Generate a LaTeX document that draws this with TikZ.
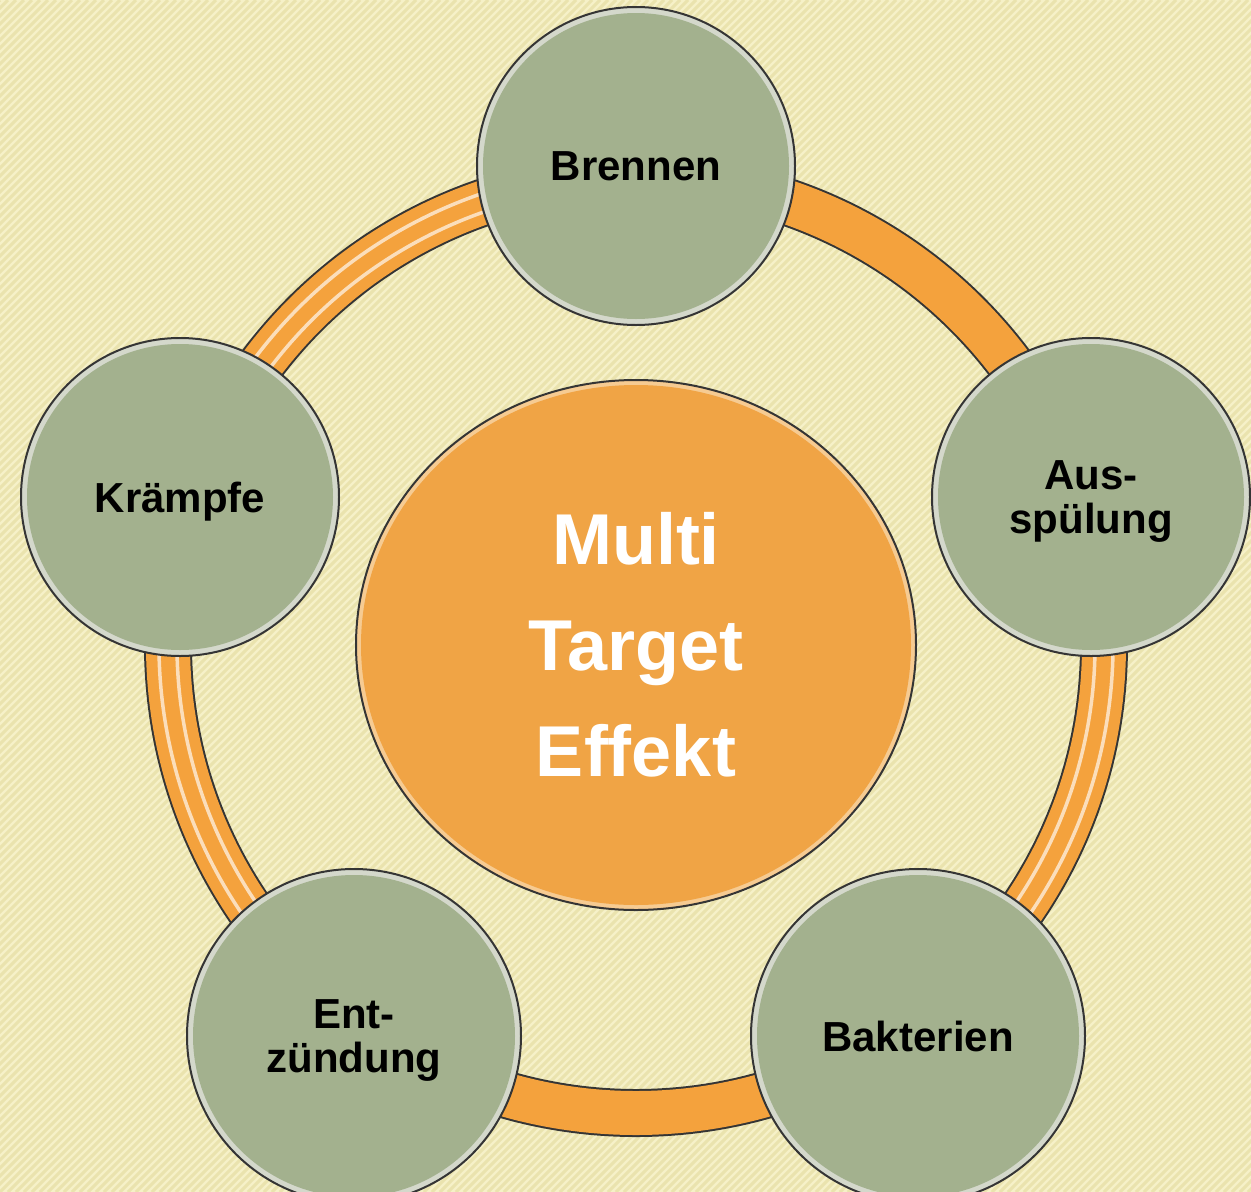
\documentclass[tikz,border=0pt]{standalone}
\usepackage{fontspec}
\setmainfont{Liberation Sans}
\usetikzlibrary{shapes.geometric}
\definecolor{bgbase}{HTML}{F6F1C8}
\definecolor{bgstripe}{HTML}{EAE3AE}
\definecolor{sage}{HTML}{A3B18E}
\definecolor{rimgray}{HTML}{D4D8CB}
\definecolor{ringorange}{HTML}{F4A23D}
\definecolor{coreorange}{HTML}{F0A445}
\definecolor{corerim}{HTML}{F6CB92}
\definecolor{edge}{HTML}{353535}
\begin{document}
\begin{tikzpicture}[x=1pt,y=-1pt,
  bub/.style={circle, draw=edge, line width=2pt, fill=rimgray, minimum size={2*#1}, inner sep=0pt, align=center, text=black,
    text depth=0pt,
    font=\bfseries\fontsize{42}{44}\selectfont,
    path picture={\fill[sage] (path picture bounding box.center) circle[radius={#1-6pt}];}},
  core/.style={ellipse, draw=edge, line width=2pt, fill=corerim, minimum width=560pt, minimum height=530pt, inner sep=0pt, align=center, text=white,
    font=\bfseries\fontsize{72}{106}\selectfont,
    path picture={\fill[coreorange] (path picture bounding box.center) ellipse[x radius=275pt, y radius=260pt];}},
  ringline/.style={line width=#1},
  gloss/.style={white, opacity=.65, line width=3.5pt}
]
% background
\fill[bgbase] (0,0) rectangle (1251,1192);
\begin{scope}
\clip (0,0) rectangle (1251,1192);
\foreach \k in {-1192,-1184,...,1256} \draw[bgstripe, line width=3pt] (\k,1192) -- (\k+1192,0);
\end{scope}
\useasboundingbox (0,0) rectangle (1251,1192);
% ring
\coordinate (ringc) at (636,645);
\draw[edge, ringline=48pt] (ringc) circle[radius=468pt];
\draw[ringorange, ringline=44pt] (ringc) circle[radius=468pt];
\foreach \a/\b in {126/198, -18/54, 198/270} {
  \foreach \r in {459,477}
    \draw[gloss] ([shift={(\a:\r)}]ringc) arc[start angle=\a, end angle=\b, radius=\r];
}
% nodes
\node[bub=159pt] (brennen) at (636,166) {Brennen};
\node[bub=159pt] (aus) at (1091,497) {Aus-\\spülung};
\node[bub=167pt] (bakt) at (918,1036) {Bakterien};
\node[bub=167pt] (entz) at (354,1036) {Ent-\\zündung};
\node[bub=159pt] (kraempfe) at (180,497) {Krämpfe};
\node[core] (core) at (636,645) {Multi\\Target\\Effekt};
\end{tikzpicture}
\end{document}
